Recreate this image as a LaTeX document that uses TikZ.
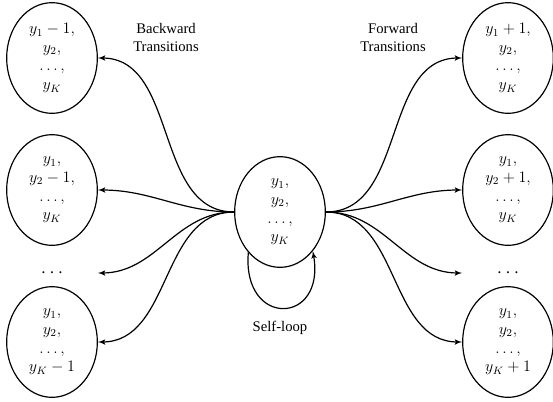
\documentclass[tikz,border=0pt]{standalone}
\usepackage{fontspec}
\setmainfont{Liberation Serif}
\usetikzlibrary{arrows,shapes.geometric}

\begin{document}
\begin{tikzpicture}[->,>=latex',line width=0.9pt,x=0.75pt,y=0.75pt,
                    font=\fontsize{11}{13.5}\selectfont]
  \tikzset{config/.style={ellipse,draw,minimum width=68pt,minimum height=83pt,
                          inner sep=1pt,align=center,
                          font=\fontsize{12}{14}\selectfont},
           gap/.style={minimum width=68pt,inner sep=0pt,
                       font=\fontsize{14}{14}\selectfont}}

  \useasboundingbox (0,0) rectangle (553,401);

  \node[config] (C)  at (280,189) {$y_1,$\\ $y_2,$\\ $\ldots,$\\ $y_K$};

  \node[config] (L1) at (52,343)  {$y_1-1,$\\ $y_2,$\\ $\ldots,$\\ $y_K$};
  \node[config] (L2) at (52,211)  {$y_1,$\\ $y_2-1,$\\ $\ldots,$\\ $y_K$};
  \node[gap]    (L3) at (52,128)  {$\cdots$};
  \node[config] (L4) at (52,59)   {$y_1,$\\ $y_2,$\\ $\ldots,$\\ $y_K-1$};

  \node[config] (R1) at (508,343) {$y_1+1,$\\ $y_2,$\\ $\ldots,$\\ $y_K$};
  \node[config] (R2) at (508,211) {$y_1,$\\ $y_2+1,$\\ $\ldots,$\\ $y_K$};
  \node[gap]    (R3) at (508,128) {$\cdots$};
  \node[config] (R4) at (508,59)  {$y_1,$\\ $y_2,$\\ $\ldots,$\\ $y_K+1$};

  \node[align=center] (back) at (166,364) {Backward\\ Transitions};
  \node[align=center] (forw) at (393,364) {Forward\\ Transitions};
  \node               (self) at (280,73)  {Self-loop};

  % backward
  \path (C.west) edge [out=180,in=0] (L1.east);
  \path (C.west) edge [out=180,in=0] (L2.east);
  \path (C.west) edge [out=180,in=0] (L3.east);
  \path (C.west) edge [out=180,in=0] (L4.east);

  % forward
  \path (C.east) edge [out=0,in=180] (R1.west);
  \path (C.east) edge [out=0,in=180] (R2.west);
  \path (C.east) edge [out=0,in=180] (R3.west);
  \path (C.east) edge [out=0,in=180] (R4.west);

  \path (C.232) edge [out=265,in=280,looseness=3] (C.310);
\end{tikzpicture}
\end{document}
